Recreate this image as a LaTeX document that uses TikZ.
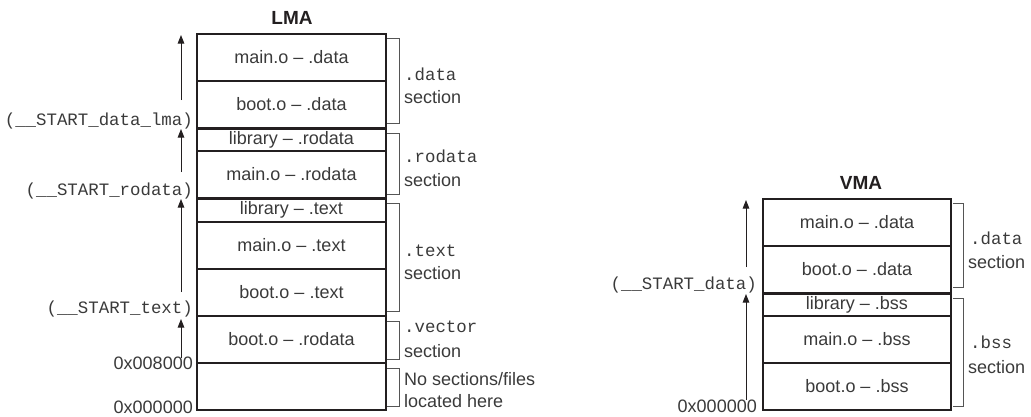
\documentclass[tikz,border=0pt]{standalone}
\usepackage{fontspec}
\setmainfont{Liberation Sans}
\setmonofont{Liberation Mono}
\usetikzlibrary{arrows.meta}
\definecolor{ink}{HTML}{231F20}
\definecolor{txt}{HTML}{3A3A3A}
\definecolor{brk}{HTML}{555555}
\tikzset{
  cell/.style={draw=ink, line width=1.1pt, inner sep=0pt, text=txt,
    font=\fontsize{18}{21}\selectfont},
  lcell/.style={cell, minimum width=189pt},
  vcell/.style={cell, minimum width=188pt},
  sep/.style={draw=ink, line width=2.2pt},
  arr/.style={draw=ink, line width=1pt, -{Triangle[width=6.5pt,length=8.5pt]}},
  brack/.style={draw=brk, line width=1pt},
  mono/.style={text=txt, inner sep=0pt, font=\ttfamily\fontsize{17.4}{20}\selectfont},
  sans/.style={text=txt, inner sep=0pt, font=\fontsize{18}{21}\selectfont},
  title/.style={text=ink, inner sep=0pt, font=\bfseries\fontsize{19}{22}\selectfont},
}
\begin{document}
\begin{tikzpicture}[x=1pt,y=-1pt]
\useasboundingbox (0,0) rectangle (1031,416);

% ---------- LMA ----------
\node[title, anchor=base] (lma) at (292,24) {LMA};
\node[lcell, minimum height=47pt] (l1) at (291.5,57.5) {main.o – .data};
\node[lcell, minimum height=47pt] (l2) at (291.5,104.5) {boot.o – .data};
\node[lcell, minimum height=23pt] (l3) at (291.5,139.5) {library – .rodata};
\node[lcell, minimum height=47pt] (l4) at (291.5,174.5) {main.o – .rodata};
\node[lcell, minimum height=24pt] (l5) at (291.5,210) {library – .text};
\node[lcell, minimum height=47pt] (l6) at (291.5,245.5) {main.o – .text};
\node[lcell, minimum height=47pt] (l7) at (291.5,292.5) {boot.o – .text};
\node[lcell, minimum height=47pt] (l8) at (291.5,339.5) {boot.o – .rodata};
\node[lcell, minimum height=47pt] (l9) at (291.5,386.5) {};
\draw[sep] (l2.south west) -- (l2.south east);
\draw[sep] (l4.south west) -- (l4.south east);

% left labels
\node[mono, anchor=base east] (sdl) at (193,125) {(\_\_START\_data\_lma)};
\node[mono, anchor=base east] (srod) at (193,195) {(\_\_START\_rodata)};
\node[mono, anchor=base east] (stxt) at (193,313) {(\_\_START\_text)};
\node[sans, anchor=base east] (a8000) at (193,369) {0x008000};
\node[sans, anchor=base east] (a0000) at (193,413) {0x000000};

% arrows
\coordinate (la1t) at (181,100); \coordinate (la1h) at (181,35);
\coordinate (la2t) at (181,172); \coordinate (la2h) at (181,129);
\coordinate (la3t) at (181,292); \coordinate (la3h) at (181,199);
\coordinate (la4t) at (181,358); \coordinate (la4h) at (181,319);
\draw[arr] (la1t) -- (la1h);
\draw[arr] (la2t) -- (la2h);
\draw[arr] (la3t) -- (la3h);
\draw[arr] (la4t) -- (la4h);

% brackets
\draw[brack] (387,38) -- (399,38) -- (399,123) -- (387,123);
\draw[brack] (387,133) -- (399,133) -- (399,194) -- (387,194);
\draw[brack] (387,203) -- (399,203) -- (399,311) -- (387,311);
\draw[brack] (387,321) -- (399,321) -- (399,359) -- (387,359);
\draw[brack] (387,368) -- (399,368) -- (399,406) -- (387,406);

\node[mono, anchor=base west] (bd1) at (404,80) {.data};
\node[sans, anchor=base west] (bd2) at (404,103) {section};
\node[mono, anchor=base west] (br1) at (404,162) {.rodata};
\node[sans, anchor=base west] (br2) at (404,186) {section};
\node[mono, anchor=base west] (bt1) at (404,256) {.text};
\node[sans, anchor=base west] (bt2) at (404,279) {section};
\node[mono, anchor=base west] (bv1) at (404,332) {.vector};
\node[sans, anchor=base west] (bv2) at (404,357) {section};
\node[sans, anchor=base west] (bn1) at (404,385) {No sections/files};
\node[sans, anchor=base west] (bn2) at (404,407) {located here};

% ---------- VMA ----------
\node[title, anchor=base] (vma) at (861,189) {VMA};
\node[vcell, minimum height=47pt] (v1) at (857,222.5) {main.o – .data};
\node[vcell, minimum height=47pt] (v2) at (857,269.5) {boot.o – .data};
\node[vcell, minimum height=23pt] (v3) at (857,304.5) {library – .bss};
\node[vcell, minimum height=47pt] (v4) at (857,339.5) {main.o – .bss};
\node[vcell, minimum height=47pt] (v5) at (857,386.5) {boot.o – .bss};
\draw[sep] (v2.south west) -- (v2.south east);

\node[mono, anchor=base east] (sdat) at (757,289) {(\_\_START\_data)};
\node[sans, anchor=base east] (v0000) at (757,412) {0x000000};

\coordinate (va1t) at (746,267); \coordinate (va1h) at (746,200);
\coordinate (va2t) at (746,400); \coordinate (va2h) at (746,294);
\draw[arr] (va1t) -- (va1h);
\draw[arr] (va2t) -- (va2h);

\draw[brack] (953,203) -- (963,203) -- (963,287) -- (953,287);
\draw[brack] (953,298) -- (963,298) -- (963,406) -- (953,406);

\node[mono, anchor=base west] (vd1) at (970,244) {.data};
\node[sans, anchor=base west] (vd2) at (968,268) {section};
\node[mono, anchor=base west] (vb1) at (970,348) {.bss};
\node[sans, anchor=base west] (vb2) at (968,373) {section};
\end{tikzpicture}
\end{document}
